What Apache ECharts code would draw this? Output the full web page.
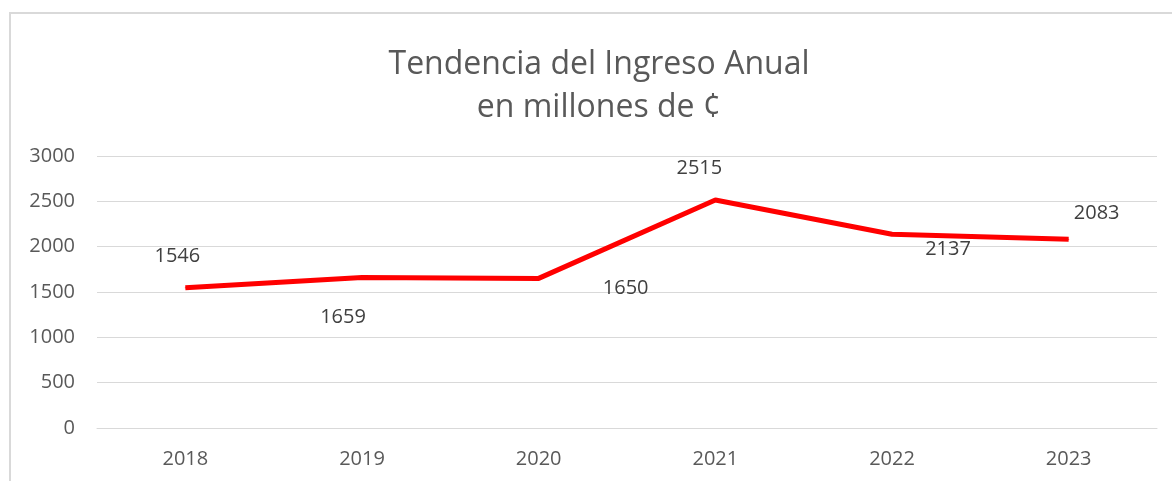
<!DOCTYPE html>
<html>
<head>
<meta charset="utf-8">
<script src="https://cdn.jsdelivr.net/npm/echarts@6/dist/echarts.min.js"></script>
<style>
  html, body { margin: 0; padding: 0; background: #fff; }
  #main { width: 1172px; height: 481px; }
</style>
</head>
<body>
<div id="main"></div>
<script>
var years = ['2018', '2019', '2020', '2021', '2022', '2023'];
var ingreso = [1546, 1659, 1650, 2515, 2137, 2083];
// where each value label sits, relative to its point
var labelOffsets = [[-8, -32], [-19, 40], [87, 10], [-16, -32], [56, 15], [28, -26]];

var myChart = echarts.init(document.getElementById('main'));

var font = 'Open Sans, Noto Sans, sans-serif';

var data = ingreso.map(function (v, i) {
    return {
        value: v,
        label: { offset: labelOffsets[i] }
    };
});

var option = {
    backgroundColor: '#fff',
    animation: false,
    title: {
        text: 'Tendencia del Ingreso Anual\nen millones de ¢',
        left: 594,
        top: 38,
        textAlign: 'center',
        textStyle: {
            fontFamily: font,
            fontSize: 32,
            fontWeight: 'normal',
            color: '#595959',
            lineHeight: 43
        }
    },
    graphic: [{
        type: 'rect',
        shape: { x: 10, y: 13, width: 1300, height: 600 },
        style: { fill: 'none', stroke: '#d9d9d9', lineWidth: 2 },
        silent: true
    }],
    grid: { left: 97, right: 15, top: 156, bottom: 53 },
    xAxis: {
        type: 'category',
        data: years,
        axisLine: { show: true, lineStyle: { color: '#d9d9d9', width: 1 } },
        axisTick: { show: false },
        axisLabel: { color: '#595959', fontSize: 20, fontFamily: font, margin: 21 }
    },
    yAxis: {
        type: 'value',
        min: 0,
        max: 3000,
        interval: 500,
        axisLine: { show: false },
        axisTick: { show: false },
        axisLabel: {
            color: '#595959', fontSize: 20, fontFamily: font, margin: 22,
            formatter: function (v) { return String(v); }
        },
        splitLine: { lineStyle: { color: '#d9d9d9', width: 1 } }
    },
    series: [{
        type: 'line',
        data: data,
        symbol: 'circle',
        symbolSize: 1,
        itemStyle: { color: '#ff0000' },
        lineStyle: { color: '#ff0000', width: 5 },
        label: {
            show: true,
            position: 'inside',
            color: '#404040',
            fontSize: 20,
            fontFamily: font
        }
    }]
};

myChart.setOption(option);
</script>
</body>
</html>
